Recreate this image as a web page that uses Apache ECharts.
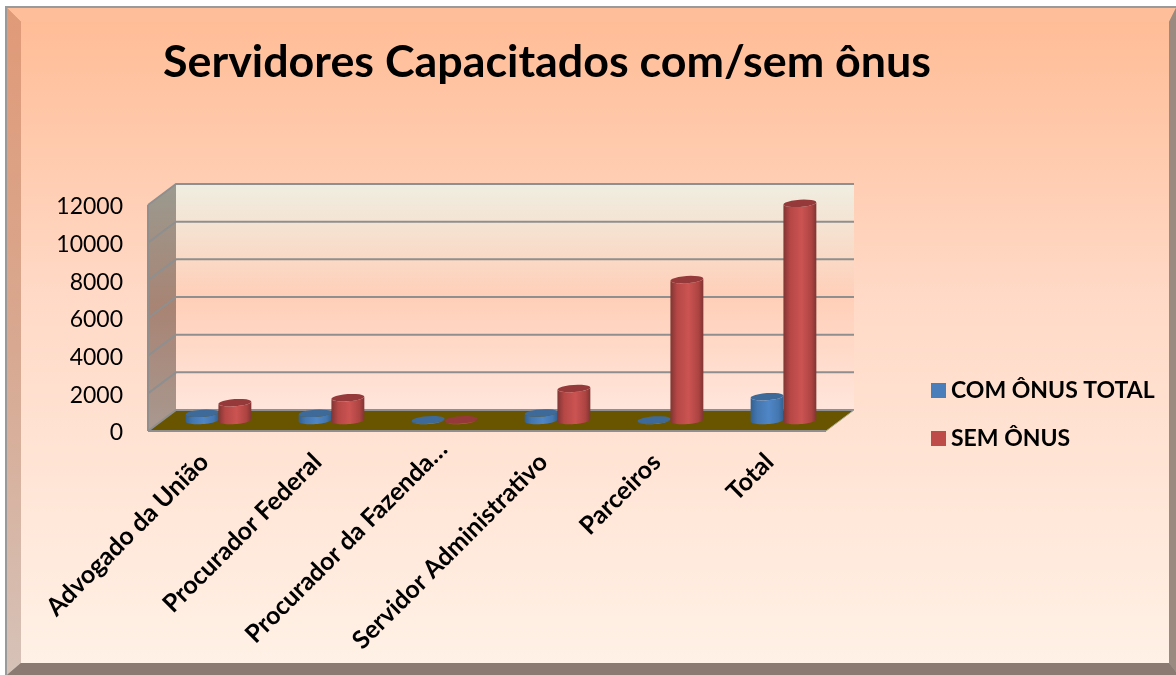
<!DOCTYPE html>
<html>
<head>
<meta charset="utf-8">
<title>Servidores Capacitados com/sem ônus</title>
<script src="https://cdn.jsdelivr.net/npm/echarts@6/dist/echarts.min.js"></script>
<style>
html,body{margin:0;padding:0;background:#fff}
#main{width:1176px;height:675px}
</style>
</head>
<body>
<div id="main"></div>
<script>
var categories = ['Advogado da União','Procurador Federal','Procurador da Fazenda…','Servidor Administrativo','Parceiros','Total'];
var comOnus = [380,380,40,400,30,1265];
var semOnus = [945,1210,40,1700,7480,11530];
var yTicks = [0,2000,4000,6000,8000,10000,12000];

var chartFont = 'Lato';
// profundidade do "3D": a parede do fundo fica deslocada da frente
var depthX = 28, depthY = 21;

var myChart = echarts.init(document.getElementById('main'));

function grad(x0,y0,x1,y1,stops){
    return new echarts.graphic.LinearGradient(x0,y0,x1,y1,stops.map(function(s){
        return {offset:s[0],color:s[1]};
    }));
}

// pontos de um arco de elipse inclinada
function arc(cx,cy,rx,ry,from,to){
    var pts = [], tilt = -0.07;
    for(var i=0;i<=24;i++){
        var a = from+(to-from)*i/24;
        var x = rx*Math.cos(a), y = ry*Math.sin(a);
        pts.push([cx+x*Math.cos(tilt)-y*Math.sin(tilt), cy+x*Math.sin(tilt)+y*Math.cos(tilt)]);
    }
    return pts;
}

function walls(params,api){
    var g = params.coordSys;
    var l = g.x, r = g.x+g.width, t = g.y, b = g.y+g.height;
    var line = {stroke:'#8f8f8f',lineWidth:2,fill:'none'};
    var kids = [
        {type:'polygon',shape:{points:[[l+depthX,t-depthY],[r+depthX,t-depthY],[r+depthX,b-depthY],[l+depthX,b-depthY]]},
            style:{fill:grad(0,0,0,1,[[0,'#efeee1'],[0.5,'#ffcfb8'],[1,'#ffe6dc']])}},
        {type:'polygon',shape:{points:[[l,t],[l+depthX,t-depthY],[l+depthX,b-depthY],[l,b]]},
            style:{fill:grad(0,0,0,1,[[0,'#9b9a8f'],[0.5,'#a88474'],[1,'#a9988f']])}},
        {type:'polygon',shape:{points:[[l,b],[l+depthX,b-depthY],[r+depthX,b-depthY],[r,b]]},
            style:{fill:'#695500'}}
    ];
    yTicks.forEach(function(v){
        var y = api.coord([0,v])[1];
        kids.push({type:'polyline',shape:{points:[[l,y],[l+depthX,y-depthY],[r+depthX,y-depthY]]},style:line});
    });
    kids.push({type:'line',shape:{x1:l,y1:t,x2:l,y2:b},style:line});
    kids.push({type:'line',shape:{x1:l,y1:b,x2:r,y2:b},style:line});
    kids.push({type:'line',shape:{x1:r,y1:b,x2:r+depthX,y2:b-depthY},style:{stroke:'#a9a98f',lineWidth:1}});
    return {type:'group',children:kids};
}

function cylinder(side,body,top){
    return function(params,api){
        var base = api.coord([api.value(0),0]);
        var head = api.coord([api.value(0),api.value(1)]);
        var band = api.size([1,0])[0];
        var rx = band*0.146;
        var cx = base[0]+depthX/2+side*band*0.145;
        var y0 = base[1]-depthY/2, y1 = head[1]-depthY/2;
        var ry = 3.6;
        var pts = arc(cx,y1,rx,ry,Math.PI,0).concat(arc(cx,y0,rx,ry,0,Math.PI));
        return {type:'group',children:[
            {type:'polygon',shape:{points:pts},style:{fill:grad(0,0,1,0,body)}},
            {type:'polygon',shape:{points:arc(cx,y1,rx,ry,0,Math.PI*2)},style:{fill:top}}
        ]};
    };
}

var blueBody = [[0,'#33608f'],[0.2,'#4477b0'],[0.55,'#4f86c6'],[0.85,'#4477b0'],[1,'#33608f']];
var redBody = [[0,'#803533'],[0.2,'#b54745'],[0.55,'#cb5452'],[0.85,'#ad4442'],[1,'#803533']];

var option = {
    animation:false,
    textStyle:{fontFamily:chartFont},
    title:{
        text:'Servidores Capacitados com/sem ônus',
        left:158,top:35,
        textStyle:{fontFamily:chartFont,fontWeight:'bold',fontSize:44.8,color:'#000'}
    },
    legend:{
        orient:'vertical',left:926,top:374,
        itemWidth:15,itemHeight:15,itemGap:25,icon:'rect',
        data:['COM ÔNUS TOTAL','SEM ÔNUS'],
        textStyle:{fontFamily:chartFont,fontWeight:'bold',fontSize:23,color:'#000'}
    },
    grid:{left:148,top:205,width:678,height:226,containLabel:false},
    xAxis:{
        type:'category',data:categories,
        axisLine:{show:false},axisTick:{show:false},splitLine:{show:false},
        axisLabel:{rotate:45,interval:0,margin:27,fontFamily:chartFont,fontWeight:'bold',fontSize:25,color:'#000',
            // o rótulo cortado termina mais à frente na diagonal
            formatter:function(v,i){return i===2 ? '{cut|'+v+'}' : v;},
            rich:{cut:{fontFamily:chartFont,fontWeight:'bold',fontSize:25,color:'#000',padding:[0,-18,0,0]}}}
    },
    yAxis:{
        type:'value',min:0,max:12000,interval:2000,
        axisLine:{show:false},axisTick:{show:false},splitLine:{show:false},
        axisLabel:{margin:25,fontFamily:chartFont,fontSize:23,color:'#000',
            formatter:function(v){return '{n|'+v+'}';},
            rich:{n:{fontFamily:chartFont,fontSize:23,color:'#000',padding:[4,0,0,0]}}}
    },
    graphic:[
        {type:'rect',z:-5,shape:{x:5,y:6,width:1171,height:669},style:{fill:'#9a9a9a'}},
        {type:'polygon',z:-4,shape:{points:[[7,8],[1176,8],[1169,22],[21,22]]},style:{fill:'#ffbe9a'}},
        {type:'polygon',z:-4,shape:{points:[[7,8],[21,22],[21,663],[7,675]]},
            style:{fill:grad(0,0,0,1,[[0,'#e09a78'],[0.5,'#d8a890'],[1,'#d6c2b8']])}},
        {type:'polygon',z:-4,shape:{points:[[7,675],[21,663],[1169,663],[1176,672],[1176,675]]},style:{fill:'#8a7a72'}},
        {type:'polygon',z:-4,shape:{points:[[1169,22],[1176,8],[1176,672],[1169,663]]},style:{fill:'#9a8a80'}},
        {type:'rect',z:-3,shape:{x:21,y:22,width:1148,height:641},
            style:{fill:grad(0,0,0,1,[[0,'#ffbd97'],[0.42,'#ffd9c6'],[1,'#fff1e6']])}}
    ],
    series:[
        {type:'custom',name:'paredes',z:1,silent:true,clip:false,data:[0],renderItem:walls,encode:{x:0,y:0},tooltip:{show:false}},
        {type:'custom',name:'COM ÔNUS TOTAL',z:2,clip:false,itemStyle:{color:'#4a7ebb'},
            data:comOnus.map(function(v,i){return [i,v];}),
            encode:{x:0,y:1},renderItem:cylinder(-1,blueBody,'#3e6a99')},
        {type:'custom',name:'SEM ÔNUS',z:3,clip:false,itemStyle:{color:'#be4b48'},
            data:semOnus.map(function(v,i){return [i,v];}),
            encode:{x:0,y:1},renderItem:cylinder(1,redBody,'#96393a')}
    ]
};
myChart.setOption(option);
</script>
</body>
</html>
